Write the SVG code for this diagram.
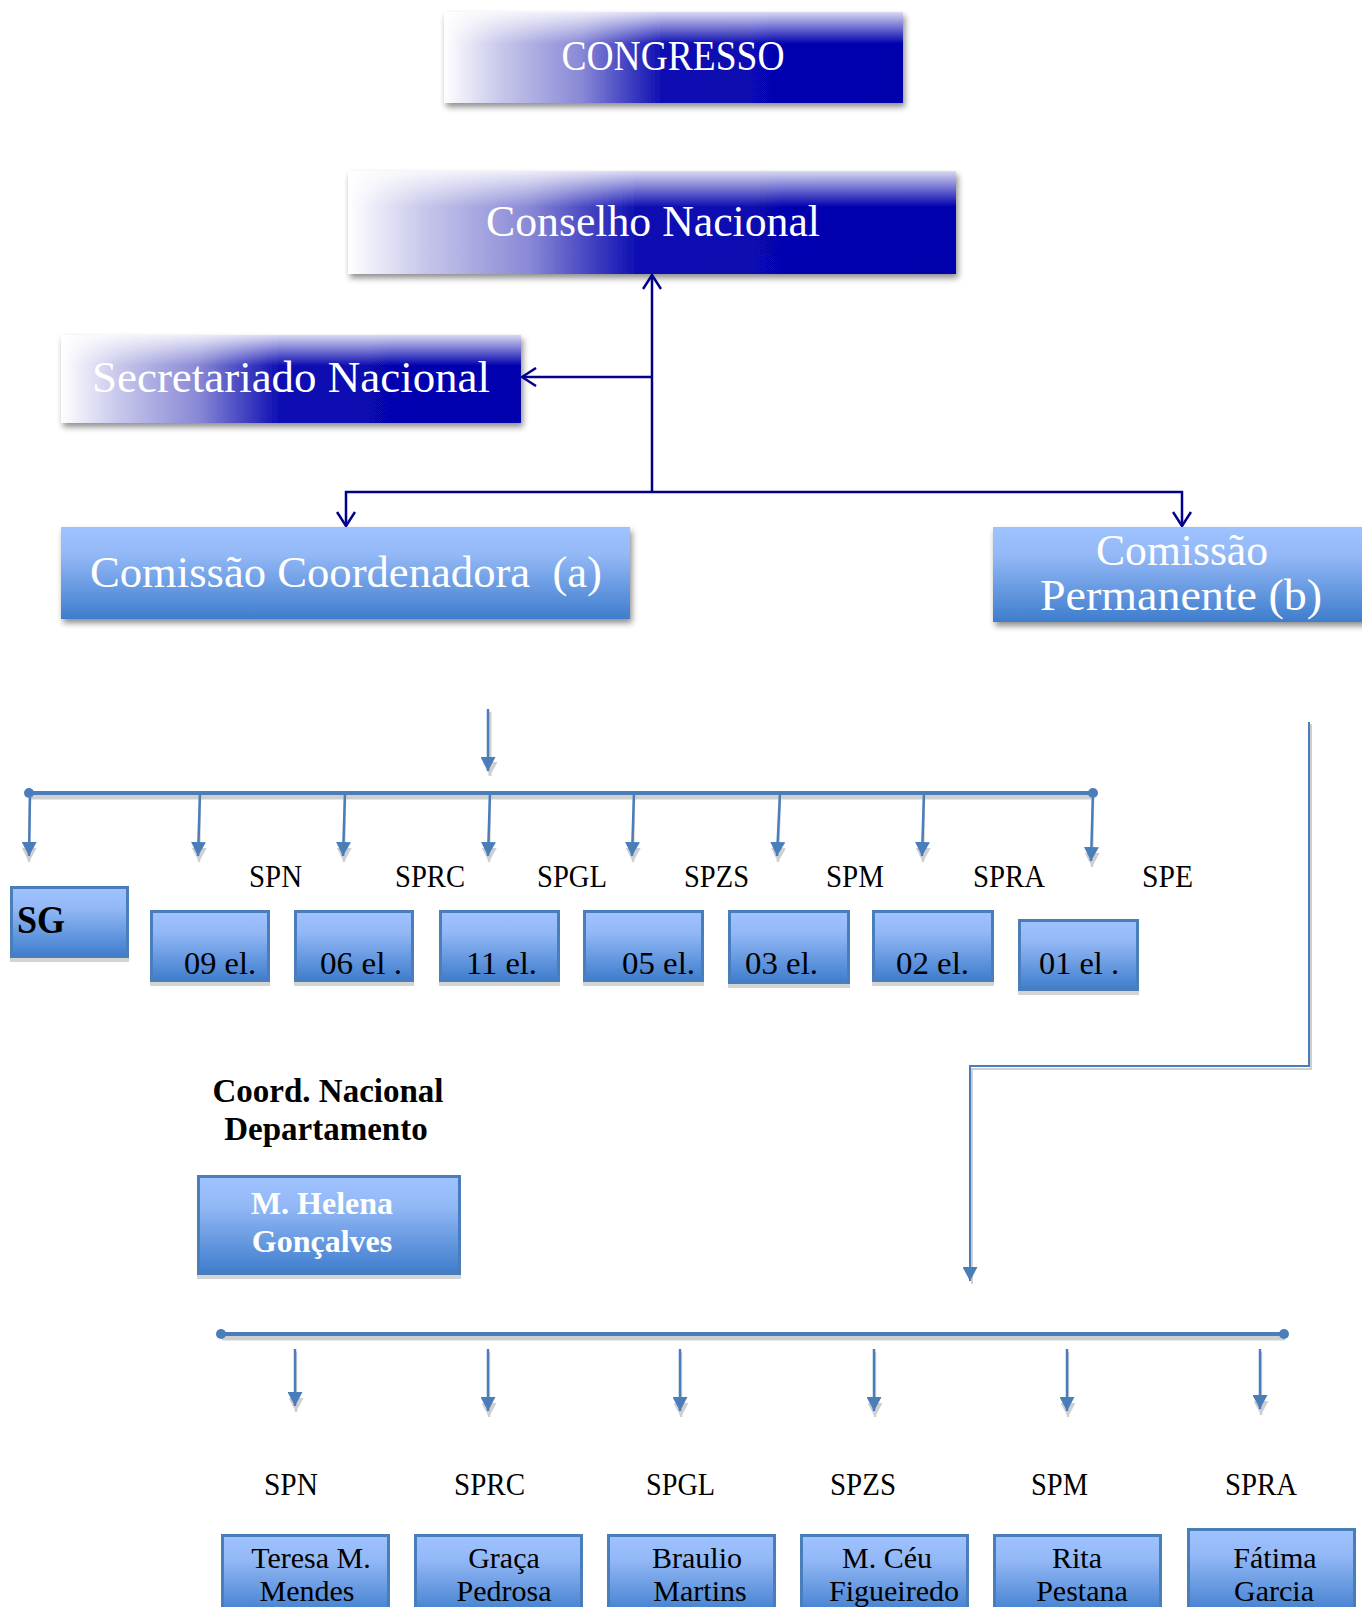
<svg xmlns="http://www.w3.org/2000/svg" width="1362" height="1607" viewBox="0 0 1362 1607">
<style>
.f{font-family:"Liberation Serif","Times New Roman",serif}
.w{fill:#ffffff}
.k{fill:#000000}
.b{font-weight:bold}
.nav{stroke:#00008b;stroke-width:2.5;fill:none}
.bl{stroke:#4a7ebb;fill:none}
.sh{stroke:#cfcfcf;fill:none}
.box{fill:url(#lb);stroke:#4a7ebb;stroke-width:3}
.hs{fill:#d4d4d4}
</style>
<defs>
<linearGradient id="dg" x1="0" y1="0" x2="1" y2="0">
<stop offset="0" stop-color="#ffffff"/>
<stop offset="0.12" stop-color="#c9c9ec"/>
<stop offset="0.3" stop-color="#8888d6"/>
<stop offset="0.48" stop-color="#0b0bb2"/>
<stop offset="1" stop-color="#0000ad"/>
</linearGradient>
<linearGradient id="dgv" x1="0" y1="0" x2="0" y2="1">
<stop offset="0" stop-color="#ffffff" stop-opacity="0.85"/>
<stop offset="0.35" stop-color="#ffffff" stop-opacity="0"/>
</linearGradient>
<linearGradient id="lb" x1="0" y1="0" x2="0" y2="1">
<stop offset="0" stop-color="#9fc3ff"/>
<stop offset="0.3" stop-color="#93b8f6"/>
<stop offset="1" stop-color="#3e7dcd"/>
</linearGradient>
<filter id="ds" x="-5%" y="-20%" width="115%" height="150%">
<feGaussianBlur in="SourceAlpha" stdDeviation="3"/>
<feOffset dx="2" dy="4" result="o"/>
<feComponentTransfer><feFuncA type="linear" slope="0.45"/></feComponentTransfer>
<feMerge><feMergeNode/><feMergeNode in="SourceGraphic"/></feMerge>
</filter>
<marker id="ch" viewBox="0 0 16 20" refX="15" refY="10" markerWidth="16" markerHeight="20" markerUnits="userSpaceOnUse" orient="auto">
<path d="M1,1 L15,10 L1,19" fill="none" stroke="#00008b" stroke-width="2.5"/>
</marker>
<marker id="ab" viewBox="0 0 14 15" refX="14" refY="7.5" markerWidth="14" markerHeight="15" markerUnits="userSpaceOnUse" orient="auto">
<path d="M0,0 L14,7.5 L0,15 z" fill="#4a7ebb"/>
</marker>
<marker id="ag" viewBox="0 0 14 15" refX="14" refY="7.5" markerWidth="14" markerHeight="15" markerUnits="userSpaceOnUse" orient="auto">
<path d="M0,0 L14,7.5 L0,15 z" fill="#cfcfcf"/>
</marker>
</defs>

<g id="congresso">
<rect x="444" y="12" width="459" height="91" fill="url(#dg)" filter="url(#ds)"/>
<rect x="444" y="12" width="459" height="91" fill="url(#dgv)"/>
<text class="f w" x="673" y="70" font-size="43" text-anchor="middle" textLength="223" lengthAdjust="spacingAndGlyphs">CONGRESSO</text>
</g>
<g id="conselho">
<rect x="348" y="171" width="608" height="103" fill="url(#dg)" filter="url(#ds)"/>
<rect x="348" y="171" width="608" height="103" fill="url(#dgv)"/>
<text class="f w" x="653" y="236" font-size="44" text-anchor="middle" textLength="334" lengthAdjust="spacingAndGlyphs">Conselho Nacional</text>
</g>
<g id="secretariado">
<rect x="61" y="335" width="460" height="88" fill="url(#dg)" filter="url(#ds)"/>
<rect x="61" y="335" width="460" height="88" fill="url(#dgv)"/>
<text class="f w" x="92" y="392" font-size="44" textLength="398" lengthAdjust="spacingAndGlyphs">Secretariado Nacional</text>
</g>
<g id="com-coord">
<rect x="61" y="527" width="569" height="92" fill="url(#lb)" filter="url(#ds)"/>
<text class="f w" x="90" y="587" font-size="44" textLength="512" lengthAdjust="spacingAndGlyphs">Comissão Coordenadora&#160; (a)</text>
</g>
<g id="com-perm">
<rect x="993" y="527" width="375" height="95" fill="url(#lb)" filter="url(#ds)"/>
<text class="f w" x="1182" y="565" font-size="44" text-anchor="middle" textLength="172" lengthAdjust="spacingAndGlyphs">Comissão</text>
<text class="f w" x="1181" y="610" font-size="44" text-anchor="middle" textLength="282" lengthAdjust="spacingAndGlyphs">Permanente (b)</text>
</g>

<g id="connectors">
<path class="nav" d="M652,492 V275" marker-end="url(#ch)"/>
<path class="nav" d="M652,377 H522" marker-end="url(#ch)"/>
<path class="nav" d="M652,492 H346 V526" marker-end="url(#ch)"/>
<path class="nav" d="M652,492 H1182 V526" marker-end="url(#ch)"/>

<path class="sh" stroke-width="3" d="M490,712 V776" marker-end="url(#ag)"/>
<path class="bl" stroke-width="2.5" d="M488,709 V771" marker-end="url(#ab)"/>

<path class="sh" stroke-width="5" d="M30,797 H1094"/>
<path class="bl" stroke-width="4" d="M29,793 H1093"/>
<circle cx="29" cy="793" r="5" fill="#4a7ebb"/>
<circle cx="1093" cy="793" r="5" fill="#4a7ebb"/>
<g>
<path class="sh" stroke-width="2.5" d="M30,796 L29,862" marker-end="url(#ag)"/>
<path class="sh" stroke-width="2.5" d="M200,796 L199,862" marker-end="url(#ag)"/>
<path class="sh" stroke-width="2.5" d="M345,796 L344,862" marker-end="url(#ag)"/>
<path class="sh" stroke-width="2.5" d="M490,796 L489,862" marker-end="url(#ag)"/>
<path class="sh" stroke-width="2.5" d="M634,796 L633,862" marker-end="url(#ag)"/>
<path class="sh" stroke-width="2.5" d="M780,796 L778,862" marker-end="url(#ag)"/>
<path class="sh" stroke-width="2.5" d="M924,796 L923,862" marker-end="url(#ag)"/>
<path class="sh" stroke-width="2.5" d="M1093,796 L1092,867" marker-end="url(#ag)"/>
</g>
<path class="bl" stroke-width="2.5" d="M30,793 L29,856" marker-end="url(#ab)"/>
<path class="bl" stroke-width="2.5" d="M200,793 L198,856" marker-end="url(#ab)"/>
<path class="bl" stroke-width="2.5" d="M345,793 L343,856" marker-end="url(#ab)"/>
<path class="bl" stroke-width="2.5" d="M490,793 L488,856" marker-end="url(#ab)"/>
<path class="bl" stroke-width="2.5" d="M634,793 L632,856" marker-end="url(#ab)"/>
<path class="bl" stroke-width="2.5" d="M780,793 L777,856" marker-end="url(#ab)"/>
<path class="bl" stroke-width="2.5" d="M924,793 L922,856" marker-end="url(#ab)"/>
<path class="bl" stroke-width="2.5" d="M1093,793 L1091,861" marker-end="url(#ab)"/>

<path class="sh" stroke-width="2" d="M1311,724 V1069 H972 V1284"/>
<path class="bl" stroke-width="2" d="M1309,722 V1066 H970 V1281" marker-end="url(#ab)"/>

<path class="sh" stroke-width="5" d="M222,1338 H1285"/>
<path class="bl" stroke-width="4" d="M221,1334 H1284"/>
<circle cx="221" cy="1334" r="5" fill="#4a7ebb"/>
<circle cx="1284" cy="1334" r="5" fill="#4a7ebb"/>
<g>
<path class="sh" stroke-width="2.5" d="M296,1352 V1412" marker-end="url(#ag)"/>
<path class="sh" stroke-width="2.5" d="M489,1352 V1417" marker-end="url(#ag)"/>
<path class="sh" stroke-width="2.5" d="M681,1352 V1417" marker-end="url(#ag)"/>
<path class="sh" stroke-width="2.5" d="M875,1352 V1417" marker-end="url(#ag)"/>
<path class="sh" stroke-width="2.5" d="M1068,1352 V1417" marker-end="url(#ag)"/>
<path class="sh" stroke-width="2.5" d="M1261,1352 V1415" marker-end="url(#ag)"/>
</g>
<path class="bl" stroke-width="2.5" d="M295,1349 V1406" marker-end="url(#ab)"/>
<path class="bl" stroke-width="2.5" d="M488,1349 V1411" marker-end="url(#ab)"/>
<path class="bl" stroke-width="2.5" d="M680,1349 V1411" marker-end="url(#ab)"/>
<path class="bl" stroke-width="2.5" d="M874,1349 V1411" marker-end="url(#ab)"/>
<path class="bl" stroke-width="2.5" d="M1067,1349 V1411" marker-end="url(#ab)"/>
<path class="bl" stroke-width="2.5" d="M1260,1349 V1409" marker-end="url(#ab)"/>
</g>

<g id="labels-mid">
<text class="f k" x="249" y="887" font-size="31" textLength="53" lengthAdjust="spacingAndGlyphs">SPN</text>
<text class="f k" x="395" y="887" font-size="31" textLength="70" lengthAdjust="spacingAndGlyphs">SPRC</text>
<text class="f k" x="537" y="887" font-size="31" textLength="70" lengthAdjust="spacingAndGlyphs">SPGL</text>
<text class="f k" x="684" y="887" font-size="31" textLength="65" lengthAdjust="spacingAndGlyphs">SPZS</text>
<text class="f k" x="826" y="887" font-size="31" textLength="58" lengthAdjust="spacingAndGlyphs">SPM</text>
<text class="f k" x="973" y="887" font-size="31" textLength="72" lengthAdjust="spacingAndGlyphs">SPRA</text>
<text class="f k" x="1142" y="887" font-size="31" textLength="51" lengthAdjust="spacingAndGlyphs">SPE</text>
</g>

<g id="sg">
<rect class="hs" x="10" y="958" width="119" height="4"/>
<rect class="box" x="11.5" y="887.5" width="116" height="69"/>
<text class="f k b" x="17" y="933" font-size="40" textLength="48" lengthAdjust="spacingAndGlyphs">SG</text>
</g>
<g id="el09">
<rect class="hs" x="150" y="982" width="120" height="4"/>
<rect class="box" x="151.5" y="911.5" width="117" height="69"/>
<text class="f k" x="184" y="974" font-size="32" textLength="72" lengthAdjust="spacingAndGlyphs">09 el.</text>
</g>
<g id="el06">
<rect class="hs" x="294" y="982" width="120" height="4"/>
<rect class="box" x="295.5" y="911.5" width="117" height="69"/>
<text class="f k" x="320" y="974" font-size="32" textLength="82" lengthAdjust="spacingAndGlyphs">06 el .</text>
</g>
<g id="el11">
<rect class="hs" x="439" y="982" width="121" height="4"/>
<rect class="box" x="440.5" y="911.5" width="118" height="69"/>
<text class="f k" x="466" y="974" font-size="32" textLength="71" lengthAdjust="spacingAndGlyphs">11 el.</text>
</g>
<g id="el05">
<rect class="hs" x="583" y="982" width="121" height="4"/>
<rect class="box" x="584.5" y="911.5" width="118" height="69"/>
<text class="f k" x="622" y="974" font-size="32" textLength="73" lengthAdjust="spacingAndGlyphs">05 el.</text>
</g>
<g id="el03">
<rect class="hs" x="728" y="984" width="122" height="4"/>
<rect class="box" x="729.5" y="911.5" width="119" height="71"/>
<text class="f k" x="745" y="974" font-size="32" textLength="73" lengthAdjust="spacingAndGlyphs">03 el.</text>
</g>
<g id="el02">
<rect class="hs" x="872" y="982" width="122" height="4"/>
<rect class="box" x="873.5" y="911.5" width="119" height="69"/>
<text class="f k" x="896" y="974" font-size="32" textLength="73" lengthAdjust="spacingAndGlyphs">02 el.</text>
</g>
<g id="el01">
<rect class="hs" x="1018" y="991" width="121" height="4"/>
<rect class="box" x="1019.5" y="920.5" width="118" height="69"/>
<text class="f k" x="1039" y="974" font-size="32" textLength="80" lengthAdjust="spacingAndGlyphs">01 el .</text>
</g>

<g id="coord-title">
<text class="f k b" x="328" y="1102" font-size="33" text-anchor="middle" textLength="231" lengthAdjust="spacingAndGlyphs">Coord. Nacional</text>
<text class="f k b" x="326" y="1140" font-size="33" text-anchor="middle">Departamento</text>
</g>
<g id="helena">
<rect class="hs" x="197" y="1275" width="264" height="4"/>
<rect class="box" x="198.5" y="1176.5" width="261" height="97"/>
<text class="f w b" x="322" y="1214" font-size="32" text-anchor="middle">M. Helena</text>
<text class="f w b" x="322" y="1252" font-size="32" text-anchor="middle">Gonçalves</text>
</g>

<g id="labels-bot">
<text class="f k" x="264" y="1495" font-size="31" textLength="54" lengthAdjust="spacingAndGlyphs">SPN</text>
<text class="f k" x="454" y="1495" font-size="31" textLength="71" lengthAdjust="spacingAndGlyphs">SPRC</text>
<text class="f k" x="646" y="1495" font-size="31" textLength="69" lengthAdjust="spacingAndGlyphs">SPGL</text>
<text class="f k" x="830" y="1495" font-size="31" textLength="66" lengthAdjust="spacingAndGlyphs">SPZS</text>
<text class="f k" x="1031" y="1495" font-size="31" textLength="57" lengthAdjust="spacingAndGlyphs">SPM</text>
<text class="f k" x="1225" y="1495" font-size="31" textLength="72" lengthAdjust="spacingAndGlyphs">SPRA</text>
</g>

<g id="n-teresa">
<rect class="box" x="222.5" y="1535.5" width="166" height="80"/>
<text class="f k" x="311" y="1568" font-size="30" text-anchor="middle">Teresa M.</text>
<text class="f k" x="307" y="1601" font-size="30" text-anchor="middle">Mendes</text>
</g>
<g id="n-graca">
<rect class="box" x="415.5" y="1535.5" width="166" height="80"/>
<text class="f k" x="504" y="1568" font-size="30" text-anchor="middle">Graça</text>
<text class="f k" x="504" y="1601" font-size="30" text-anchor="middle">Pedrosa</text>
</g>
<g id="n-braulio">
<rect class="box" x="608.5" y="1535.5" width="166" height="80"/>
<text class="f k" x="697" y="1568" font-size="30" text-anchor="middle">Braulio</text>
<text class="f k" x="700" y="1601" font-size="30" text-anchor="middle">Martins</text>
</g>
<g id="n-ceu">
<rect class="box" x="801.5" y="1535.5" width="166" height="80"/>
<text class="f k" x="887" y="1568" font-size="30" text-anchor="middle">M. Céu</text>
<text class="f k" x="894" y="1601" font-size="30" text-anchor="middle">Figueiredo</text>
</g>
<g id="n-rita">
<rect class="box" x="994.5" y="1535.5" width="166" height="80"/>
<text class="f k" x="1077" y="1568" font-size="30" text-anchor="middle">Rita</text>
<text class="f k" x="1082" y="1601" font-size="30" text-anchor="middle">Pestana</text>
</g>
<g id="n-fatima">
<rect class="box" x="1188.5" y="1529.5" width="166" height="86"/>
<text class="f k" x="1275" y="1568" font-size="30" text-anchor="middle">Fátima</text>
<text class="f k" x="1274" y="1601" font-size="30" text-anchor="middle">Garcia</text>
</g>
</svg>
